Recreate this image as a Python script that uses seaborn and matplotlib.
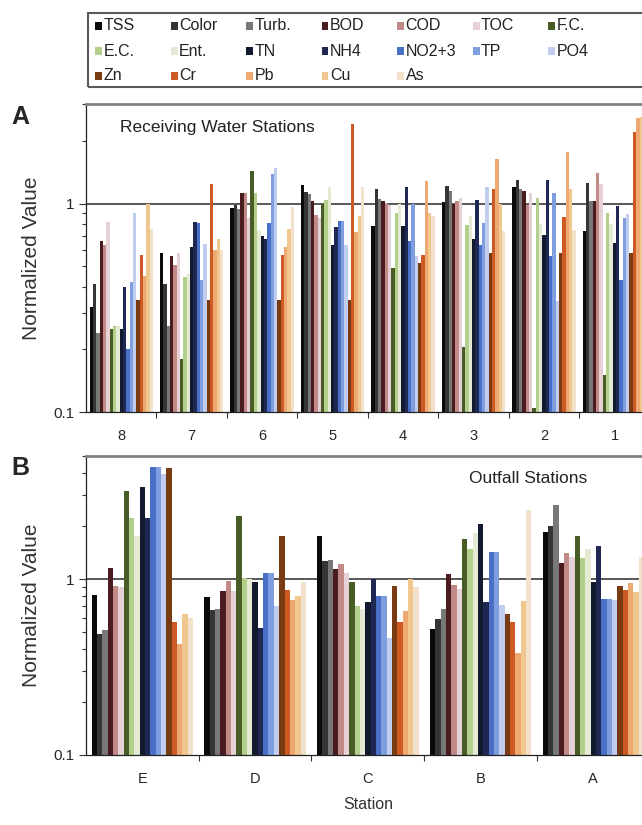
import numpy as np
import pandas as pd
import seaborn as sns
import matplotlib.pyplot as plt
from matplotlib.patches import Rectangle
from matplotlib.ticker import FixedLocator, NullFormatter

params = ["TSS", "Color", "Turb.", "BOD", "COD", "TOC", "F.C.",
          "E.C.", "Ent.", "TN", "NH4", "NO2+3", "TP", "PO4",
          "Zn", "Cr", "Pb", "Cu", "As"]

colors = ["#0a0a0a", "#353535", "#787878", "#4a1c20", "#c28a86", "#e6d2d6", "#485c26",
          "#b3cf8c", "#e4ead4", "#121a30", "#1e2852", "#4a6fc6", "#7e9ee0", "#c0cdee",
          "#7a3a12", "#cc5a22", "#eea872", "#f0c78e", "#f3e2cb"]

# receiving water stations (panel A)
rw_stations = ["8", "7", "6", "5", "4", "3", "2", "1"]
rw_8 = [0.32, 0.41, 0.24, 0.66, 0.63, 0.82, 0.25, 0.26, 0.26, 0.25, 0.40, 0.20, 0.42, 0.90, 0.345, 0.57, 0.45, 1.0, 0.76]
rw_7 = [0.58, 0.41, 0.26, 0.56, 0.51, 0.58, 0.18, 0.445, 0.46, 0.62, 0.82, 0.81, 0.43, 0.64, 0.345, 1.24, 0.60, 0.68, 0.60]
rw_6 = [0.95, 0.99, 0.94, 1.12, 1.13, 0.85, 1.44, 1.13, 0.75, 0.70, 0.68, 0.81, 1.39, 1.48, 0.345, 0.57, 0.62, 0.76, 0.96]
rw_5 = [1.23, 1.14, 1.11, 1.03, 0.88, 0.85, 1.0, 1.04, 1.20, 0.63, 0.77, 0.83, 0.83, 0.63, 0.345, 2.41, 0.73, 0.87, 1.20]
rw_4 = [0.78, 1.18, 1.05, 1.03, 1.01, 0.99, 0.49, 0.90, 1.0, 0.78, 1.20, 0.66, 1.0, 0.56, 0.52, 0.57, 1.29, 0.90, 0.87]
rw_3 = [1.02, 1.21, 1.15, 1.0, 1.03, 1.06, 0.205, 0.79, 0.87, 0.68, 1.04, 0.63, 0.81, 1.20, 0.58, 1.18, 1.64, 1.0, 0.74]
rw_2 = [1.20, 1.30, 1.17, 1.15, 0.99, 1.13, 0.105, 1.07, 0.80, 0.71, 1.30, 0.56, 1.13, 0.34, 0.58, 0.86, 1.77, 1.17, 0.75]
rw_1 = [0.74, 1.26, 1.03, 1.03, 1.40, 1.24, 0.15, 0.90, 0.80, 0.65, 0.97, 0.43, 0.85, 0.89, 0.58, 2.20, 2.57, 2.60, 1.5]

# outfall stations (panel B)
of_stations = ["E", "D", "C", "B", "A"]
of_E = [0.81, 0.485, 0.51, 1.15, 0.915, 0.90, 3.15, 2.22, 1.77, 3.34, 2.22, 4.35, 4.35, 3.98, 4.30, 0.57, 0.425, 0.63, 0.60]
of_D = [0.79, 0.67, 0.68, 0.85, 0.98, 0.86, 2.30, 1.02, 1.0, 0.96, 0.525, 1.08, 1.08, 0.70, 1.77, 0.87, 0.76, 0.80, 0.96]
of_C = [1.77, 1.27, 1.29, 1.14, 1.22, 1.09, 0.965, 0.70, 0.68, 0.74, 1.0, 0.80, 0.80, 0.46, 0.91, 0.57, 0.66, 1.0, 0.90]
of_B = [0.52, 0.59, 0.68, 1.07, 0.92, 0.88, 1.68, 1.48, 1.83, 2.06, 0.74, 1.43, 1.43, 0.71, 0.63, 0.57, 0.38, 0.75, 2.46]
of_A = [1.85, 2.0, 2.64, 1.24, 1.41, 1.33, 1.75, 1.31, 1.48, 0.96, 1.54, 0.77, 0.77, 0.76, 0.91, 0.87, 0.95, 0.84, 1.33]


def long_df(stations, rows):
    recs = []
    for st, vals in zip(stations, rows):
        for p, v in zip(params, vals):
            recs.append((st, p, v))
    return pd.DataFrame(recs, columns=["Station", "Param", "Value"])


df_a = long_df(rw_stations, [rw_8, rw_7, rw_6, rw_5, rw_4, rw_3, rw_2, rw_1])
df_b = long_df(of_stations, [of_E, of_D, of_C, of_B, of_A])

sns.set_style("white")
plt.rcParams["font.family"] = ["Liberation Sans", "DejaVu Sans"]

fig = plt.figure(figsize=(6.42, 8.25), dpi=100)
ax_a = fig.add_axes([0.134, 0.5006, 0.878, 0.373])
ax_b = fig.add_axes([0.134, 0.085, 0.878, 0.362])

for ax, df, order, top in [(ax_a, df_a, rw_stations, 3), (ax_b, df_b, of_stations, 5)]:
    sns.barplot(data=df, x="Station", y="Value", hue="Param", order=order,
                hue_order=params, palette=colors, saturation=1, width=0.9,
                errorbar=None, ax=ax, linewidth=0, legend=False)
    ax.set_yscale("log", nonpositive="clip")
    ax.set_ylim(0.1, top)
    ax.set_xlim(-0.5, len(order) - 0.5)
    ax.axhline(1, color="#4a4a4a", lw=1.3, zorder=0.5)
    ax.yaxis.set_major_locator(FixedLocator([0.1, 1]))
    ax.yaxis.set_major_formatter(plt.FixedFormatter(["0.1", "1"]))
    ax.yaxis.set_minor_locator(FixedLocator([k * 0.1 for k in range(2, 10)] + [k for k in range(2, top + 1)]))
    ax.yaxis.set_minor_formatter(NullFormatter())
    ax.tick_params(axis="y", which="major", direction="out", length=5, width=0.8,
                   color="#333333", labelsize=11, left=True)
    ax.tick_params(axis="y", which="minor", direction="out", length=3, width=0.8,
                   color="#333333", left=True)
    ax.xaxis.set_minor_locator(FixedLocator(np.arange(0.5, len(order) - 0.5, 1.0)))
    ax.tick_params(axis="x", which="major", length=0, pad=12, labelsize=10.5)
    ax.tick_params(axis="x", which="minor", direction="out", length=4, width=0.8,
                   color="#333333", bottom=True)
    for s in ["left", "bottom"]:
        ax.spines[s].set_color("#222222")
        ax.spines[s].set_linewidth(0.9)
    ax.spines["top"].set_color("#808080")
    ax.spines["top"].set_linewidth(2)
    ax.spines["right"].set_visible(False)
    ax.set_ylabel("Normalized Value", fontsize=15, color="#333333", labelpad=9)

ax_a.set_xlabel("")
ax_b.set_xlabel("Station", fontsize=11.5, color="#333333", labelpad=8)

ax_a.text(0.06, 0.925, "Receiving Water Stations", transform=ax_a.transAxes,
          fontsize=12.5, va="center", color="#222222")
ax_b.text(0.68, 0.926, "Outfall Stations", transform=ax_b.transAxes,
          fontsize=12.5, va="center", color="#222222")

fig.text(0.018, 0.858, "A", fontsize=18, fontweight="bold", va="center")
fig.text(0.018, 0.433, "B", fontsize=18, fontweight="bold", va="center")

# legend: square swatches on a fixed grid, framed box running off the right edge
W, H = 642.0, 825.0
fig.patches.append(Rectangle((88 / W, 1 - 87 / H), 570 / W, 74 / H, transform=fig.transFigure,
                             fill=False, edgecolor="#5a5a5a", lw=1.5, zorder=5))
for i, (lab, col) in enumerate(zip(params, colors)):
    r, c = divmod(i, 7)
    x0 = 95 + 75.5 * c
    yc = 26 + 25 * r
    fig.patches.append(Rectangle((x0 / W, 1 - (yc + 3.5) / H), 7 / W, 7 / H,
                                 transform=fig.transFigure, facecolor=col, lw=0, zorder=5))
    fig.text((x0 + 8.5) / W, 1 - yc / H, lab, fontsize=11.5, va="center", ha="left",
             color="#222222")

fig.savefig("out.png", dpi=100)
